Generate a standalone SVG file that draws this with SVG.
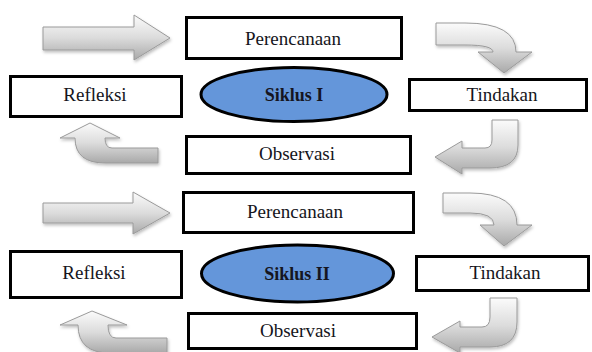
<svg xmlns="http://www.w3.org/2000/svg" width="592" height="352" viewBox="0 0 592 352">
  <defs>
    <linearGradient id="gv" x1="0" y1="0" x2="0" y2="1">
      <stop offset="0" stop-color="#fbfbfb"/>
      <stop offset="0.5" stop-color="#dcdcdc"/>
      <stop offset="1" stop-color="#a9a9a9"/>
    </linearGradient>
    <linearGradient id="gh" x1="0" y1="0" x2="1" y2="0">
      <stop offset="0" stop-color="#f4f4f4"/>
      <stop offset="0.5" stop-color="#dadada"/>
      <stop offset="1" stop-color="#a9a9a9"/>
    </linearGradient>
    <filter id="sh" x="-20%" y="-20%" width="140%" height="140%">
      <feDropShadow dx="1" dy="2" stdDeviation="1.5" flood-color="#000" flood-opacity="0.25"/>
    </filter>
  </defs>
  <style>
    .box { fill: #fff; stroke: #000; stroke-width: 3; }
    .ell { fill: #6496da; stroke: #000; stroke-width: 3; }
    .lbl { font-family: "Liberation Serif", "Times New Roman", serif; font-size: 19px; fill: #151520; text-anchor: middle; }
    .bold { font-weight: bold; font-size: 18px; }
    .arr { fill: url(#gv); stroke: #9a9a9a; stroke-width: 1; filter: url(#sh); }
    .arrh { fill: url(#gh); stroke: #9a9a9a; stroke-width: 1; filter: url(#sh); }
  </style>
  <rect width="592" height="352" fill="#fff"/>

  <g id="connectors">
    <!-- cycle I -->
    <path class="arr" d="M43,27 L134,27 L134,15 L170,38 L134,60 L134,50 L43,50 Z"/>
    <path class="arr" d="M436,23 L465,23 Q516,23 516,52 L532,52 L504,73 L478,52 L493,52 Q493,45 465,45 L436,45 Z"/>
    <path class="arr" d="M492,120 L518,120 L518,145 Q518,168 490,168 L462,168 L462,174 L435,157 L462,141 L462,148 L485,148 Q492,148 492,140 Z"/>
    <path class="arr" d="M158,148 L112,148 Q105,148 105,138 L120,138 L90,123 L60,138 L75,138 Q75,163 105,163 L158,163 Z"/>
    <!-- cycle II -->
    <path class="arr" d="M43,203 L133,203 L133,192 L170,213 L133,234 L133,223 L43,223 Z"/>
    <path class="arr" d="M443,193 L470,193 Q517,193 517,225 L532,225 L504,246 L480,225 L494,225 Q494,213 470,213 L443,213 Z"/>
    <path class="arr" d="M490,298 L517,298 L517,322 Q517,347 490,347 L460,347 L460,353 L432,337 L460,321 L460,327 L482,327 Q490,327 490,317 Z"/>
    <path class="arr" d="M167,338 L116,338 Q108,338 108,325 L127,325 L92,311 L60,325 L78,325 Q78,353 110,353 L167,353 Z"/>
  </g>

  <g id="perencanaan1">
    <rect class="box" x="186.5" y="17.5" width="215" height="41"/>
    <text class="lbl" x="293" y="45">Perencanaan</text>
  </g>
  <g id="refleksi1">
    <rect class="box" x="10.5" y="76.5" width="171" height="40"/>
    <text class="lbl" x="95" y="101">Refleksi</text>
  </g>
  <g id="siklus1">
    <ellipse class="ell" cx="294" cy="94.5" rx="93" ry="27"/>
    <text class="lbl bold" x="294" y="101">Siklus I</text>
  </g>
  <g id="tindakan1">
    <rect class="box" x="409.5" y="79.5" width="177" height="31"/>
    <text class="lbl" x="502" y="101">Tindakan</text>
  </g>
  <g id="observasi1">
    <rect class="box" x="186.5" y="136.5" width="224" height="37"/>
    <text class="lbl" x="297" y="160">Observasi</text>
  </g>

  <g id="perencanaan2">
    <rect class="box" x="183.5" y="192.5" width="230" height="40"/>
    <text class="lbl" x="295" y="218">Perencanaan</text>
  </g>
  <g id="refleksi2">
    <rect class="box" x="10.5" y="251.5" width="171" height="46"/>
    <text class="lbl" x="94" y="279">Refleksi</text>
  </g>
  <g id="siklus2">
    <ellipse class="ell" cx="297.5" cy="273.5" rx="96" ry="28.5"/>
    <text class="lbl bold" x="297" y="280">Siklus II</text>
  </g>
  <g id="tindakan2">
    <rect class="box" x="416.5" y="256.5" width="172" height="34"/>
    <text class="lbl" x="505" y="279">Tindakan</text>
  </g>
  <g id="observasi2">
    <rect class="box" x="188.5" y="313.5" width="228" height="35"/>
    <text class="lbl" x="298" y="337">Observasi</text>
  </g>
</svg>
